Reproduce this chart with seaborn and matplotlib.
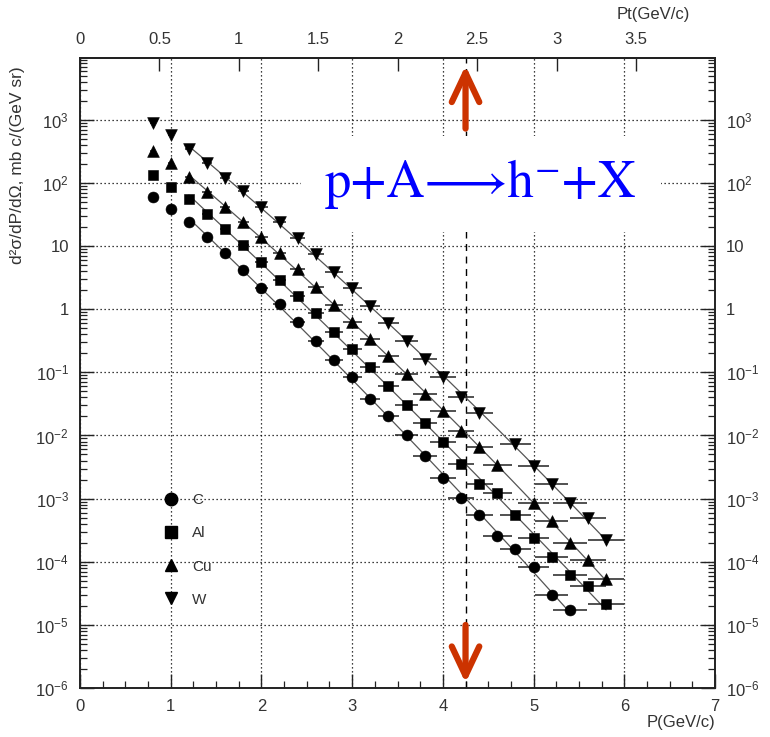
import numpy as np
import pandas as pd
import matplotlib
matplotlib.use("Agg")
import matplotlib.pyplot as plt
import seaborn as sns
from matplotlib.lines import Line2D
from matplotlib.ticker import FixedLocator, FixedFormatter, LogLocator, MultipleLocator, NullFormatter

# ---------------- data ----------------
P = [0.8, 1.0, 1.2, 1.4, 1.6, 1.8, 2.0, 2.2, 2.4, 2.6, 2.8, 3.0, 3.2,
     3.4, 3.6, 3.8, 4.0, 4.2, 4.4, 4.6, 4.8, 5.0, 5.2, 5.4, 5.6, 5.8]
NAN = float("nan")
C_VALS = [61.0, 38.9, 23.9, 14.2, 7.71, 4.20, 2.20, 1.23, 0.617, 0.316, 0.155, 0.0832, 0.0380,
          0.0200, 0.0100, 0.00479, 0.00209, 0.00102, 5.50e-4, 2.57e-4, 1.58e-4, 8.32e-5, 2.95e-5,
          1.74e-5, NAN, NAN]
AL_VALS = [134, 87.7, 56.0, 32.0, 18.5, 10.4, 5.69, 2.95, 1.60, 0.865, 0.437, 0.234, 0.123,
           0.0617, 0.0302, 0.0158, 0.00794, 0.00355, 0.00170, 0.00123, 5.50e-4, 2.40e-4, 1.20e-4,
           6.17e-5, 4.07e-5, 2.14e-5]
CU_VALS = [327, 206, 123, 73.1, 42.4, 24.5, 14.2, 7.67, 4.27, 2.29, 1.17, 0.631, 0.339,
           0.182, 0.0955, 0.0457, 0.0245, 0.0117, 0.00661, 0.00347, NAN, 8.51e-4, 4.37e-4,
           1.95e-4, 1.05e-4, 5.37e-5]
W_VALS = [885, 578, 343, 206, 119, 75.9, 42.4, 24.0, 13.3, 7.41, 3.89, 2.14, 1.12,
          0.603, 0.309, 0.162, 0.0851, 0.0407, 0.0224, NAN, 0.00724, 0.00324, 0.00170,
          8.51e-4, 4.90e-4, 2.24e-4]
P_ERR = [0.03, 0.035, 0.04, 0.05, 0.055, 0.06, 0.07, 0.075, 0.085, 0.09, 0.10, 0.105, 0.11,
         0.12, 0.125, 0.13, 0.14, 0.145, 0.15, 0.16, 0.17, 0.175, 0.18, 0.19, 0.195, 0.20]
TARGETS = ["C", "Al", "Cu", "W"]
FIT_FROM_P = 1.2

X_TICKS = [0, 1, 2, 3, 4, 5, 6, 7]
Y_TICKS = [1e-6, 1e-5, 1e-4, 1e-3, 1e-2, 1e-1, 1, 10, 1e2, 1e3]
Y_TICK_LABELS = [r"$10^{-6}$", r"$10^{-5}$", r"$10^{-4}$", r"$10^{-3}$", r"$10^{-2}$",
                 r"$10^{-1}$", "1", "10", r"$10^{2}$", r"$10^{3}$"]
PT_TICKS = [0, 0.5, 1, 1.5, 2, 2.5, 3, 3.5]
PT_TICK_LABELS = ["0", "0.5", "1", "1.5", "2", "2.5", "3", "3.5"]
PT_PER_P = 0.571
ARROW_P = 4.25
TITLE = "p+A\u27F6h\u207B+X"
Y_LABEL = "d\u00b2\u03c3/dP/d\u03a9, mb c/(GeV sr)"

# ---------------- style ----------------
sns.set_style("white")
plt.rcParams["font.family"] = ["Liberation Sans", "DejaVu Sans"]
plt.rcParams["mathtext.default"] = "regular"
TXT = "#333333"

fig = plt.figure(figsize=(7.7, 7.37), dpi=100)
ax = fig.add_axes([80 / 770, 49 / 737, 635 / 770, 630 / 737])

rows = []
for name, vals in zip(TARGETS, [C_VALS, AL_VALS, CU_VALS, W_VALS]):
    for p, v, e in zip(P, vals, P_ERR):
        rows.append({"P": p, "sigma": v, "perr": e, "target": name})
df = pd.DataFrame(rows).dropna()

styles = {"C": ("o", 62), "Al": ("s", 58), "Cu": ("^", 72), "W": ("v", 72)}

for name in TARGETS:
    sub = df[df.target == name]
    # fitted curve (from data)
    fsub = sub[sub.P >= FIT_FROM_P - 1e-9]
    coef = np.polyfit(fsub.P, np.log10(fsub.sigma), 2)
    xx = np.linspace(fsub.P.min(), fsub.P.max(), 200)
    ax.plot(xx, 10 ** np.polyval(coef, xx), color="#555555", lw=0.9, zorder=2)
    ax.errorbar(sub.P, sub.sigma, xerr=sub.perr, fmt="none", ecolor="#222222",
                elinewidth=1.1, capsize=0, zorder=3)
    m, s = styles[name]
    sns.scatterplot(data=sub, x="P", y="sigma", marker=m, s=s, color="black",
                    edgecolor="black", linewidth=0.4, ax=ax, zorder=4, legend=False)

ax.set_yscale("log")
ax.set_xlim(0, 7)
ax.set_ylim(1e-6, 10 ** 3.98)
ax.set_xlabel("")
ax.set_ylabel("")

# ticks
ax.xaxis.set_major_locator(FixedLocator(X_TICKS))
ax.xaxis.set_minor_locator(MultipleLocator(0.25))
ax.yaxis.set_major_locator(FixedLocator(Y_TICKS))
ax.yaxis.set_major_formatter(FixedFormatter(Y_TICK_LABELS))
ax.yaxis.set_minor_locator(LogLocator(base=10, subs=np.arange(2, 10), numticks=30))
ax.yaxis.set_minor_formatter(NullFormatter())
ax.tick_params(which="both", direction="in", top=False, right=True, left=True, bottom=True,
               labelright=True, labelleft=True, colors="#222222", labelcolor=TXT,
               labelsize=12)
ax.tick_params(which="major", length=10, width=1.0, pad=8)
ax.tick_params(which="minor", length=5, width=0.9)

for sp in ax.spines.values():
    sp.set_linewidth(1.4)
    sp.set_color("#222222")

ax.grid(True, which="major", linestyle=(0, (1, 2.2)), color="black", lw=0.9)
ax.set_axisbelow(True)

secax = ax.secondary_xaxis("top", functions=(lambda p: p * PT_PER_P, lambda pt: pt / PT_PER_P))
secax.xaxis.set_major_locator(FixedLocator(PT_TICKS))
secax.xaxis.set_major_formatter(FixedFormatter(PT_TICK_LABELS))
secax.tick_params(direction="in", length=9, width=1.0, labelsize=12, labelcolor=TXT, pad=8,
                  colors="#222222")
secax.spines["top"].set_linewidth(1.4)

# dashed line at the arrow position
ax.axvline(ARROW_P, color="black", lw=1.0, ls=(0, (5, 4)), zorder=1)

# reaction title with white background (above grid, below data)
ax.text(0.6315, 0.80, TITLE, transform=ax.transAxes, ha="center", va="center",
        fontsize=38, color="#0000FF", family=["STIXGeneral", "DejaVu Serif"], zorder=1.5,
        bbox=dict(boxstyle="square,pad=0.45", facecolor="white", edgecolor="none"))

# red arrows
arrow_kw = dict(arrowstyle="->,head_length=0.7,head_width=0.33", color="#CC3300", lw=4.5,
                shrinkA=0, shrinkB=0, mutation_scale=30)
ax.annotate("", xy=(ARROW_P, 0.988), xytext=(ARROW_P, 0.888),
            xycoords=("data", "axes fraction"), textcoords=("data", "axes fraction"),
            arrowprops=arrow_kw, zorder=6)
ax.annotate("", xy=(ARROW_P, 0.008), xytext=(ARROW_P, 0.10),
            xycoords=("data", "axes fraction"), textcoords=("data", "axes fraction"),
            arrowprops=arrow_kw, zorder=6)

# legend
handles = [Line2D([], [], marker=styles[n][0], linestyle="none", color="black",
                  markersize=9) for n in TARGETS]
leg = ax.legend(handles, TARGETS, loc="upper left", bbox_to_anchor=(0.1313, 0.309),
                frameon=False, borderpad=0, borderaxespad=0, handlelength=1.0,
                handletextpad=0.9, labelspacing=1.25, fontsize=11)
for t in leg.get_texts():
    t.set_color(TXT)

# axis titles
fig.text(18 / 770, 1 - 165 / 737, Y_LABEL, rotation=90, ha="center", va="center",
         fontsize=12.5, color=TXT)
fig.text(715 / 770, 1 - 722 / 737, "P(GeV/c)", ha="right", va="center", fontsize=12, color=TXT)
fig.text(690 / 770, 1 - 15 / 737, "Pt(GeV/c)", ha="right", va="center", fontsize=12, color=TXT)

fig.savefig("out.png", dpi=100)
